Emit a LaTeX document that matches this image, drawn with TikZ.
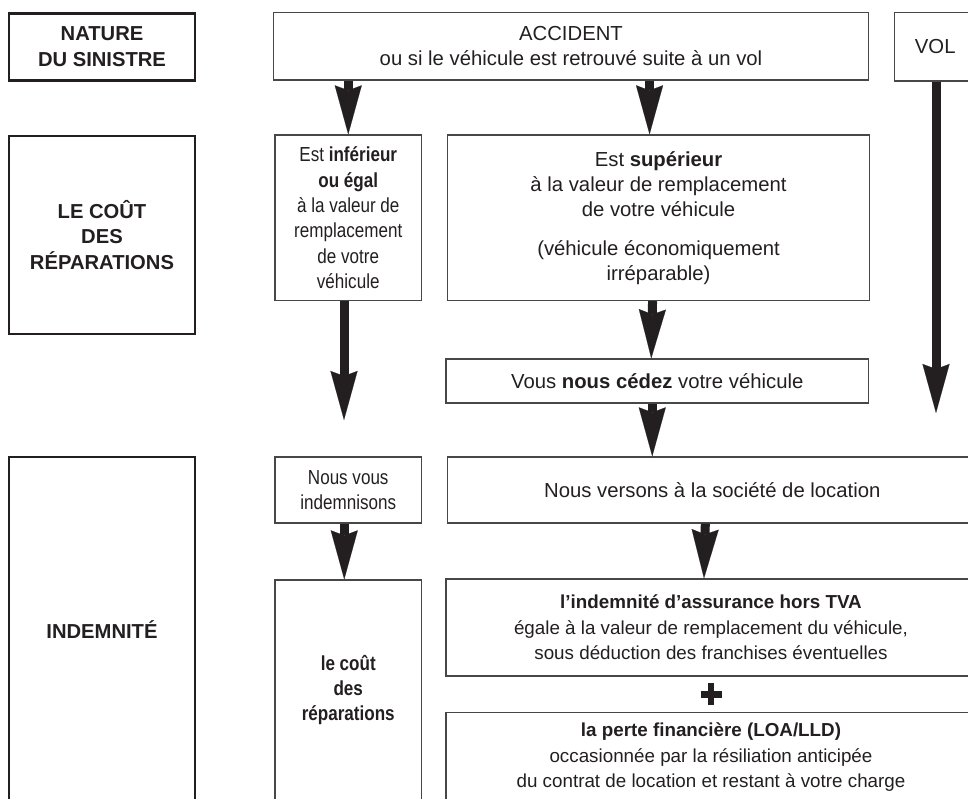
\documentclass[tikz,border=0pt]{standalone}
\usepackage{fontspec}
\setmainfont{Liberation Sans}
\newfontfamily\narrowfont[FakeStretch=0.84]{Liberation Sans}
\usetikzlibrary{arrows.meta}
\usetikzlibrary{positioning}
\definecolor{ink}{HTML}{231F20}
\tikzset{%
  sidebox/.style = {rectangle,draw=ink,line width=2.4pt,align=center,
        inner sep=0pt,font=\bfseries\fontsize{20.2}{25.8}\selectfont},
  flowbox/.style = {rectangle,draw=black!72,line width=1.3pt,align=center,
        inner sep=0pt,font=\fontsize{20.3}{25}\selectfont},
  narrowbox/.style = {flowbox,font=\narrowfont\fontsize{20.3}{25.3}\selectfont},
  smallbox/.style = {flowbox,font=\fontsize{18.8}{25.5}\selectfont},
  bigarrow/.style = {draw=ink,line width=9pt,
        -{Stealth[length=49pt,width=27pt,inset=5pt,line width=0.1pt]}},
  plusmark/.style = {draw=ink,line width=6.5pt}
}

\begin{document}
\begin{tikzpicture}[x=1pt,y=-1pt,node distance=24.5 and 24.5,text=ink]
   \useasboundingbox (0,0) rectangle (968,798);
   \clip (0,0) rectangle (968,798);

   \node[sidebox,minimum width=186,minimum height=67] (nature) at (102,47)
      {NATURE\\DU SINISTRE};
   \node[sidebox,minimum width=186,minimum height=198] (cout) at (102,235)
      {LE COÛT\\DES\\RÉPARATIONS};
   \node[sidebox,minimum width=186,minimum height=346] (indemn) at (102,630)
      {INDEMNITÉ};

   \node[flowbox,minimum width=594.5,minimum height=67.5] (accident) at (571,46.25)
      {ACCIDENT\\ou si le véhicule est retrouvé suite à un vol};
   \node[flowbox,minimum width=81.5,minimum height=68.5] (vol) at (935.25,46.75) {VOL};

   \node[narrowbox,minimum width=146.5,minimum height=165.5] (inferieur) at (348.25,217.75)
      {Est \textbf{inférieur}\\\textbf{ou égal}\\à la valeur de\\remplacement\\de votre\\véhicule};
   \node[flowbox,minimum width=422.5,minimum height=165.5] (superieur) [right=of inferieur]
      {Est \textbf{supérieur}\\à la valeur de remplacement\\de votre véhicule\\[14pt]
       (véhicule économiquement\\irréparable)};
   \node[flowbox,minimum width=422.5,minimum height=44] (cedez) at (657.25,381)
      {Vous \textbf{nous cédez} votre véhicule};

   \node[narrowbox,minimum width=146.5,minimum height=66] (indemnisons) at (348.25,490)
      {Nous vous\\indemnisons};
   \node[flowbox,minimum width=530,minimum height=66] (versons) [right=of indemnisons]
      {Nous versons à la société de location};

   \node[narrowbox,minimum width=146.5,minimum height=220] (cout2) at (348.25,690)
      {\textbf{le coût}\\\textbf{des}\\\textbf{réparations}};
   \node[smallbox,minimum width=530,minimum height=97] (indemnite) at (711,627.5)
      {\textbf{l’indemnité d’assurance hors TVA}\\égale à la valeur de remplacement du véhicule,\\
       sous déduction des franchises éventuelles};
   \node[smallbox,minimum width=530,minimum height=89.5] (perte) at (711,757.25)
      {\textbf{la perte financière (LOA/LLD)}\\occasionnée par la résiliation anticipée\\
       du contrat de location et restant à votre charge};

   \coordinate (volend) at (936,413);
   \coordinate (infend) at (344,420);
   \path (indemnite.south) -- (perte.north) coordinate[midway] (plus);

   \draw[bigarrow] (accident.south -| inferieur.north) -- (inferieur.north);
   \draw[bigarrow] ([xshift=-9]superieur.north |- accident.south) -- ([xshift=-9]superieur.north);
   \draw[bigarrow] (vol.south -| volend) -- (volend);
   \draw[bigarrow] (inferieur.south -| infend) -- (infend);
   \draw[bigarrow] ([xshift=-6]superieur.south) -- ([xshift=-6]cedez.north);
   \draw[bigarrow] ([xshift=-5]cedez.south) -- ([xshift=-5]cedez.south |- versons.north);
   \draw[bigarrow] ([xshift=-4]indemnisons.south) -- ([xshift=-4]cout2.north);
   \draw[bigarrow] ([xshift=-7]versons.south) -- ([xshift=-7]indemnite.north);

   \draw[plusmark] ([xshift=-10.5]plus) -- ([xshift=10.5]plus)
      ([yshift=-11]plus) -- ([yshift=11]plus);
\end{tikzpicture}
\end{document}
